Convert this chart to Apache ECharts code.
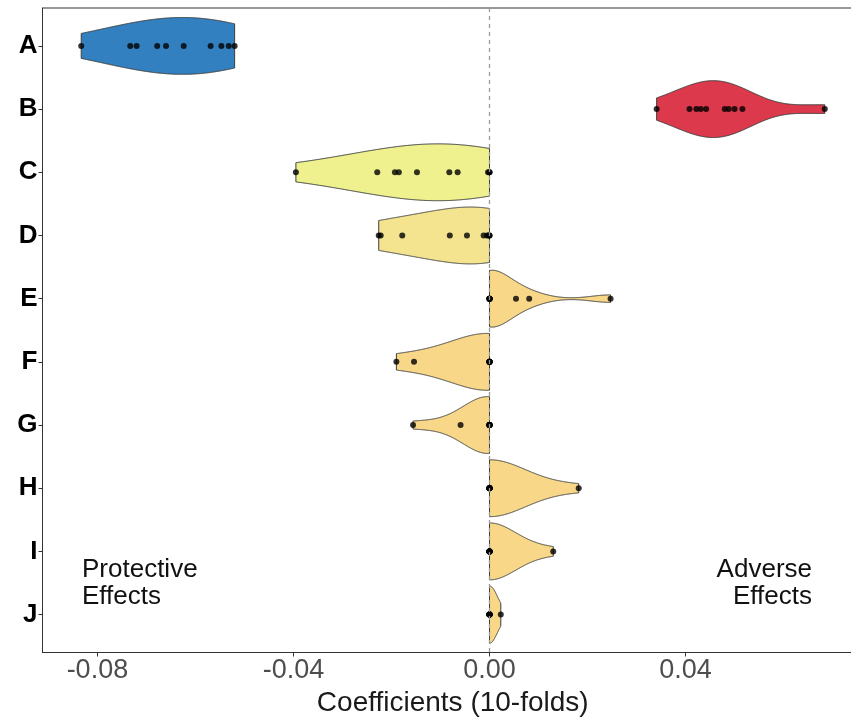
<!DOCTYPE html>
<html>
<head>
<meta charset="utf-8">
<script src="https://cdn.jsdelivr.net/npm/echarts@6/dist/echarts.min.js"></script>
<style>html,body{margin:0;padding:0;background:#fff;}#c{width:851px;height:720px;}</style>
</head>
<body>
<div id="c"></div>
<script>
// ---- data ----
const categories = ['A','B','C','D','E','F','G','H','I','J'];
const valuesA = [-0.0833,-0.0733,-0.0720,-0.0678,-0.0660,-0.0624,-0.0569,-0.0547,-0.0532,-0.0520];
const valuesB = [0.0341,0.0408,0.0422,0.0431,0.0442,0.0480,0.0488,0.0500,0.0516,0.0684];
const valuesC = [-0.0395,-0.0229,-0.0193,-0.0185,-0.0148,-0.0082,-0.0065,-0.0003,0,0];
const valuesD = [-0.0226,-0.0222,-0.0178,-0.0081,-0.0046,-0.0012,-0.0005,-0.0002,0,0];
const valuesE = [0,0,0,0,0,0,0,0.0054,0.0081,0.0247];
const valuesF = [-0.0190,-0.0154,0,0,0,0,0,0,0,0];
const valuesG = [-0.0156,-0.0059,0,0,0,0,0,0,0,0];
const valuesH = [0,0,0,0,0,0,0,0,0,0.0182];
const valuesI = [0,0,0,0,0,0,0,0,0,0.0130];
const valuesJ = [0,0,0,0,0,0,0,0,0,0.0023];
const xTicks = [-0.08,-0.04,0,0.04];
// kernel bandwidth per violin
const bandwidths = [0.011,0.006,0.014,0.01,0.004,0.008,0.005,0.0075,0.0055,0.0015];

const groups = [valuesA,valuesB,valuesC,valuesD,valuesE,valuesF,valuesG,valuesH,valuesI,valuesJ];
const fillColors = ['#3380C0','#DC3A4C','#EEF18E','#F4E490','#F8D888','#F8D888','#F8D888','#F8D888','#F8D888','#F8D888'];

function kde(vals, bw){
  const lo = Math.min(...vals), hi = Math.max(...vals);
  const n = 256, out = [];
  for (let k=0;k<n;k++){
    const x = lo + (hi-lo)*k/(n-1);
    let s = 0;
    for (const v of vals){ const u=(x-v)/bw; s += Math.exp(-0.5*u*u); }
    out.push([x,s]);
  }
  const m = Math.max(...out.map(p=>p[1]));
  return out.map(p=>[p[0], p[1]/m*0.45]);
}
const densities = groups.map((g,i)=>kde(g,bandwidths[i]));

const dots = [];
groups.forEach((g,i)=>g.forEach(v=>dots.push([v,i+1])));

const chart = echarts.init(document.getElementById('c'), null, {renderer:'canvas'});
const FONT = 'Liberation Sans';
chart.setOption({
  animation:false,
  backgroundColor:'#fff',
  grid:{left:42.5,width:820.5,top:8,bottom:67.5,show:true,borderColor:'#333',borderWidth:1,backgroundColor:'transparent',outerBoundsMode:'none',containLabel:false},
  xAxis:{
    type:'value', min:-0.0912, max:0.0762,
    axisLine:{show:true,onZero:false,lineStyle:{color:'#333',width:1}},
    axisTick:{show:true,customValues:xTicks,length:4,lineStyle:{color:'#333'}},
    axisLabel:{customValues:xTicks,formatter:v=>v.toFixed(2),fontFamily:FONT,fontSize:27,color:'#4d4d4d',margin:5},
    splitLine:{show:false},
    name:'Coefficients (10-folds)', nameLocation:'middle', nameGap:34,
    nameTextStyle:{fontFamily:FONT,fontSize:28,color:'#1a1a1a'}
  },
  yAxis:{
    type:'value', inverse:true, min:0.4, max:10.6,
    axisLine:{show:true,onZero:false,lineStyle:{color:'#333',width:1}},
    axisTick:{show:true,customValues:categories.map((c,i)=>i+1),length:4,lineStyle:{color:'#333'}},
    axisLabel:{customValues:categories.map((c,i)=>i+1),formatter:v=>categories[Math.round(v)-1]||'',fontFamily:FONT,fontSize:26,fontWeight:'bold',color:'#000',margin:5},
    splitLine:{show:false}
  },
  series:[
    {type:'line',data:[],z:1,silent:true,
     markLine:{silent:true,symbol:['none','none'],label:{show:false},
       lineStyle:{type:[4,4],color:'#9a9a9a',width:1.3},data:[{xAxis:0}]}},
    {type:'custom',z:2,clip:false,
     data:categories.map((c,i)=>[0,i+1]),
     encode:{x:0,y:1},
     renderItem:function(params,api){
       const g = params.dataIndex, y = g+1, d = densities[g];
       const pts = [];
       for (const p of d) pts.push(api.coord([p[0], y - p[1]]));
       for (let k=d.length-1;k>=0;k--) pts.push(api.coord([d[k][0], y + d[k][1]]));
       return {type:'polygon',shape:{points:pts},style:{fill:fillColors[g],stroke:'#3d3d3d',lineWidth:1}};
     }},
    {type:'scatter',z:3,data:dots,symbolSize:6,itemStyle:{color:'#000'},silent:true}
  ],
  graphic:[
    {type:'text',x:82,y:556,style:{text:'Protective\nEffects',font:'26px "Liberation Sans"',fill:'#111',lineHeight:27,align:'left'}},
    {type:'text',x:812,y:556,style:{text:'Adverse\nEffects',font:'26px "Liberation Sans"',fill:'#111',lineHeight:27,align:'right'}}
  ]
});
</script>
</body>
</html>
